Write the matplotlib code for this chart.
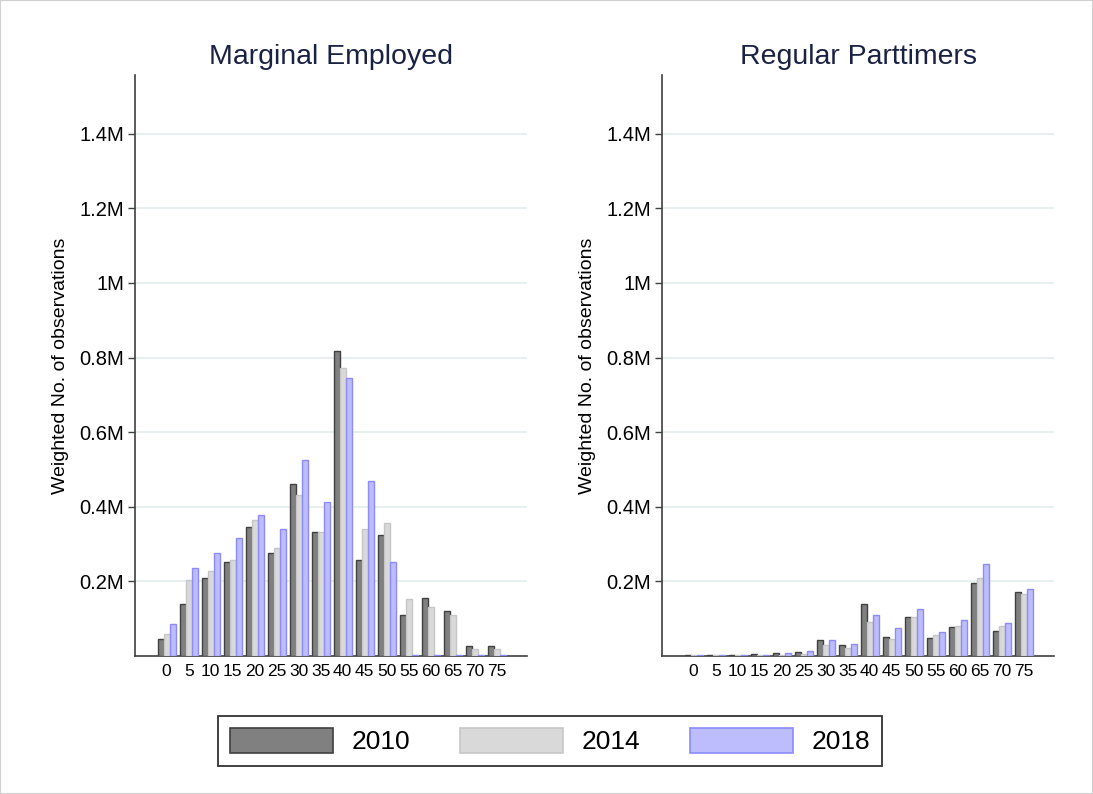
import matplotlib
matplotlib.use("Agg")
import matplotlib.pyplot as plt
import numpy as np
from matplotlib.patches import Patch, Rectangle

plt.rcParams['font.family'] = ['Liberation Sans', 'DejaVu Sans']

categories = [0, 5, 10, 15, 20, 25, 30, 35, 40, 45, 50, 55, 60, 65, 70, 75]
years = ["2010", "2014", "2018"]

# Values in millions
marginal_2010 = [0.044, 0.138, 0.209, 0.252, 0.346, 0.276, 0.462, 0.332, 0.817, 0.256, 0.324, 0.110, 0.154, 0.120, 0.026, 0.026]
marginal_2014 = [0.058, 0.204, 0.228, 0.258, 0.364, 0.290, 0.431, 0.332, 0.771, 0.340, 0.356, 0.152, 0.132, 0.108, 0.017, 0.017]
marginal_2018 = [0.084, 0.236, 0.275, 0.316, 0.377, 0.340, 0.524, 0.413, 0.744, 0.469, 0.252, 0.001, 0.001, 0.001, 0.001, 0.001]

regular_2010 = [0.002, 0.001, 0.001, 0.004, 0.008, 0.011, 0.042, 0.030, 0.139, 0.051, 0.105, 0.048, 0.076, 0.195, 0.066, 0.170]
regular_2014 = [0.001, 0.001, 0.001, 0.001, 0.003, 0.005, 0.029, 0.021, 0.091, 0.044, 0.103, 0.056, 0.079, 0.208, 0.080, 0.166]
regular_2018 = [0.002, 0.001, 0.001, 0.003, 0.006, 0.013, 0.042, 0.032, 0.110, 0.073, 0.124, 0.063, 0.095, 0.245, 0.088, 0.178]

titles = ["Marginal Employed", "Regular Parttimers"]
ylabel = "Weighted No. of observations"
yticks = [0.2, 0.4, 0.6, 0.8, 1.0, 1.2, 1.4]
yticklabels = ["0.2M", "0.4M", "0.6M", "0.8M", "1M", "1.2M", "1.4M"]

faces = ["#808080", "#d9d9d9", "#bdbdfd"]
edges = ["#404040", "#c6c6c6", "#8b8bff"]

fig = plt.figure(figsize=(10.93, 7.94), dpi=100)
fig.patch.set_facecolor("white")

panels = [
    (marginal_2010, marginal_2014, marginal_2018),
    (regular_2010, regular_2014, regular_2018),
]
lefts = [135 / 1093, 662 / 1093]
bottom = 1 - 655.7 / 794
height = (655.7 - 75) / 794
width = 392 / 1093

x = np.arange(len(categories))
bw = 0.27
for i, (series, left) in enumerate(zip(panels, lefts)):
    ax = fig.add_axes([left, bottom, width, height])
    for j, vals in enumerate(series):
        ax.bar(x + (j - 1) * bw, vals, width=bw, color=faces[j], edgecolor=edges[j],
               linewidth=1.0, zorder=3)
    ax.set_xlim(-1.44, len(categories) - 1 + 1.38)
    ax.set_ylim(0, 1.558)
    ax.set_xticks(x)
    ax.set_xticklabels([str(c) for c in categories], fontsize=12.5)
    ax.tick_params(axis='x', length=0, pad=6, colors="black")
    ax.set_yticks(yticks)
    ax.set_yticklabels(yticklabels, fontsize=14.5)
    ax.tick_params(axis='y', length=5, width=1, color="#404040", direction='out', pad=3)
    ax.yaxis.grid(True, color="#e3ecef", linewidth=1.2, zorder=0)
    ax.set_axisbelow(True)
    for s in ["top", "right"]:
        ax.spines[s].set_visible(False)
    for s in ["left", "bottom"]:
        ax.spines[s].set_color("#404040")
        ax.spines[s].set_linewidth(1.2)
    ax.set_ylabel(ylabel, fontsize=14, labelpad=7)
    ax.set_title(titles[i], fontsize=20.5, color="#1a2244", pad=8)

handles = [Patch(facecolor=faces[k], edgecolor=edges[k], linewidth=1.2, label=years[k]) for k in range(3)]
leg = fig.legend(handles=handles, loc="center", bbox_to_anchor=(550 / 1093, 1 - 741 / 794),
                 ncol=3, fontsize=19, frameon=True, fancybox=False, edgecolor="black",
                 handlelength=3.9, handleheight=1.1, handletextpad=0.7, columnspacing=1.9,
                 borderpad=0.45, borderaxespad=0)
leg.get_frame().set_linewidth(1.3)

# thin light figure border
fig.patches.append(Rectangle((0, 0), 1, 1, transform=fig.transFigure, fill=False,
                             edgecolor="#d0d0d0", linewidth=1.5))

fig.savefig("out.png", dpi=100)
